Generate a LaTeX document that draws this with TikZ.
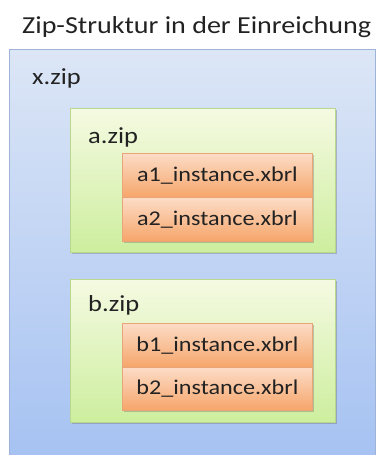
\documentclass[tikz,border=0pt]{standalone}
\usepackage{fontspec}
\setmainfont[FakeStretch=1.15]{Carlito}
\usetikzlibrary{shadows}
\definecolor{outerTop}{HTML}{DCE6F6}
\definecolor{outerBot}{HTML}{A6C2F2}
\definecolor{outerLine}{HTML}{9DB4D8}
\definecolor{zipTop}{HTML}{F5FAE2}
\definecolor{zipBot}{HTML}{CDEE9E}
\definecolor{zipLine}{HTML}{B9D88E}
\definecolor{fileTop}{HTML}{FCDCC6}
\definecolor{fileBot}{HTML}{F6A56A}
\definecolor{fileLine}{HTML}{E9A578}
\definecolor{txt}{HTML}{222222}
\tikzset{
  outerbox/.style={draw=outerLine, line width=0.8pt, top color=outerTop, bottom color=outerBot},
  zipbox/.style={draw=zipLine, line width=0.8pt, top color=zipTop, bottom color=zipBot,
     drop shadow={shadow xshift=1.5pt, shadow yshift=-2pt, opacity=0.35, fill=black!60}},
  filebox/.style={draw=fileLine, line width=0.8pt, top color=fileTop, bottom color=fileBot,
     drop shadow={shadow xshift=1.5pt, shadow yshift=-2pt, opacity=0.35, fill=black!60},
     minimum width=190pt, anchor=north west, inner sep=0pt, text=txt,
     font=\fontsize{21}{24}\selectfont},
  lbl/.style={text=txt, inner sep=0pt, anchor=base west},
  ziplbl/.style={lbl, font=\fontsize{23}{26}\selectfont},
}
\begin{document}
\begin{tikzpicture}[x=1pt,y=-1pt]
\useasboundingbox (0,0) rectangle (379,455);
\fill[white] (0,0) rectangle (379,455);
\node[lbl, font=\fontsize{24.4}{28}\selectfont] (title) at (22,33) {Zip-Struktur in der Einreichung};
\path[outerbox] (9,49) rectangle (375,458);
\node[ziplbl] (xzip) at (32,84) {x.zip};
% a.zip
\path[zipbox] (70,108) rectangle (335,252);
\node[ziplbl] (azip) at (88,143) {a.zip};
\node[filebox, minimum height=44pt] (a1) at (122,153) {a1\_instance.xbrl};
\node[filebox, minimum height=44pt] (a2) at (122,197) {a2\_instance.xbrl};
% b.zip
\path[zipbox] (70,279) rectangle (335,422);
\node[ziplbl] (bzip) at (88,311) {b.zip};
\node[filebox, minimum height=44pt] (b1) at (122,323) {b1\_instance.xbrl};
\node[filebox, minimum height=43pt] (b2) at (122,367) {b2\_instance.xbrl};
\end{tikzpicture}
\end{document}
